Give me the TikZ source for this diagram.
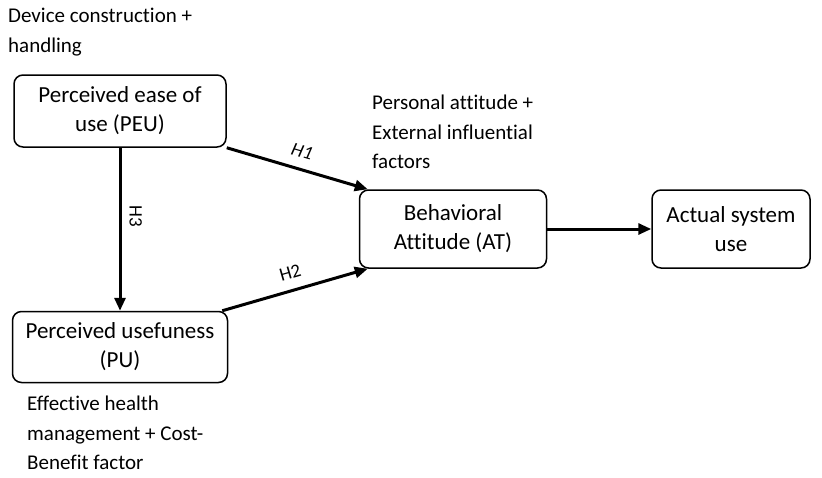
\documentclass[tikz,border=0pt]{standalone}
\usepackage{fontspec}
\setmainfont{Carlito}[Ligatures=NoCommon]
\usetikzlibrary{positioning, arrows.meta}

\begin{document}
\begin{tikzpicture}[
		x=1pt, y=-1pt,
		% Styles
		box/.style={rectangle, draw=black, line width=1.5pt, fill=white, rounded corners=9pt, align=center, font=\fontsize{23}{29}\selectfont, inner sep=0pt},
		note/.style={align=left, anchor=north west, inner sep=0pt, font=\fontsize{21}{29.5}\selectfont},
		arrow/.style={-{Triangle[length=13pt, width=11pt]}, line width=3pt},
		hlabel/.style={font=\fontsize{19}{20}\selectfont, inner sep=2pt}
	]
	\useasboundingbox (0,0) rectangle (822,477);

	% --- Constructs ---
	\node[box, minimum width=212pt, minimum height=72pt] (peu) at (120,111) {Perceived ease of\\use (PEU)};
	\node[box, minimum width=215pt, minimum height=71pt] (pu) at (120,347) {Perceived usefuness\\(PU)};
	\node[box, minimum width=187pt, minimum height=78pt] (at) at (453,229) {Behavioral\\Attitude (AT)};
	\node[box, minimum width=158pt, minimum height=78pt] (use) at (731,229) {Actual system\\use};

	% --- Notes ---
	\node[note] (peu_note) at (8,8) {Device construction +\\handling};
	\node[note] (at_note) at (372,95) {Personal attitude +\\External influential\\factors};
	\node[note] (pu_note) at (27,396) {Effective health\\management + Cost-\\Benefit factor};

	% --- ARROWS ---
	\draw[arrow] (peu.south east) -- (at.155) node[midway, sloped, above=8pt, hlabel] {\itshape H1};
	\draw[arrow] ([xshift=-6pt]pu.north east) -- (at.205) node[midway, sloped, above=8pt, hlabel] {H2};
	\draw[arrow] (peu.south) -- (pu.north) node[pos=0.42, hlabel, rotate=-90, anchor=south, yshift=6pt] {H3};
	\draw[arrow] (at) -- (use);

\end{tikzpicture}
\end{document}
